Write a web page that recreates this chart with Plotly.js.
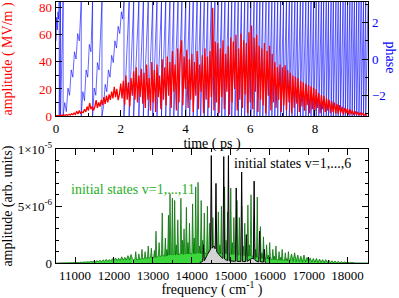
<!DOCTYPE html>
<html>
<head>
<meta charset="utf-8">
<script src="https://cdn.plot.ly/plotly-3.0.1.min.js"></script>
<style>html,body{margin:0;padding:0;background:#fff;}#chart{width:399px;height:298px;}</style>
</head>
<body>
<div id="chart"></div>
<script>
// ---------- top panel data ----------
// field amplitude (MV/m), sampled every 0.04 ps starting at t = 0
const amplitudeMVm = [
 0.3,0.2,0.5,0.3,0.6,0.4,0.8,0.5,1.0,0.6,1.2,0.8,1.6,1.0,2.2,1.2,3.5,1.5,4.0,2.0,3.0,2.5,5.0,3.0,7.0,
 4.0,9.5,5.0,7.0,4.0,6.8,11.8,6.0,10.0,7.0,12.0,8.0,14.0,9.0,15.0,10.0,16.0,12.0,18.0,13.0,21.6,14.0,20.0,11.8,16.0,
 24.0,13.0,26.0,8.0,30.0,12.0,25.0,7.0,28.0,15.0,33.0,12.0,36.0,10.0,30.0,14.0,35.0,9.0,32.0,6.0,38.0,12.0,28.0,4.0,40.0,
 10.0,34.0,3.0,38.0,14.0,30.0,5.0,42.0,12.0,36.0,8.0,44.0,15.0,40.0,6.0,48.0,18.0,38.0,4.0,50.0,10.0,46.0,56.0,8.0,44.0,
 20.0,49.0,6.0,42.0,12.0,46.0,3.0,40.0,15.0,48.0,5.0,38.0,18.0,45.0,2.0,50.0,12.0,44.0,6.0,48.0,14.0,80.0,4.0,55.0,10.0,
 54.0,2.0,50.0,14.0,56.0,5.0,46.0,18.0,52.0,1.0,58.0,10.0,55.0,20.0,60.0,4.0,50.0,12.0,61.0,6.0,56.0,16.0,54.0,2.0,62.0,
 10.0,67.0,5.0,58.0,18.0,60.0,3.0,52.0,12.0,50.0,8.0,54.0,2.0,48.0,15.0,52.0,4.0,46.0,10.0,40.0,6.0,36.0,12.0,38.0,3.0,
 36.0,8.0,37.5,4.0,34.0,10.0,32.0,2.0,30.0,6.0,29.0,9.0,28.0,3.0,26.0,7.0,25.0,4.0,24.0,8.0,23.0,2.0,22.0,5.0,21.0,
 4.0,20.0,6.0,17.0,2.0,15.5,5.0,15.0,3.0,13.0,4.0,12.0,2.0,11.0,3.0,10.0,2.0,9.0,1.5,8.0,2.5,7.0,1.0,6.0,2.0,
 5.5,1.0,5.0,1.5,4.0,0.8,3.5,1.0,3.0,0.5,2.5,0.8,2.0,0.5,1.5,0.3
];
// phase (rad): early slow part read point by point
const phaseEarlyT = [0.00,0.02,0.04,0.06,0.08,0.10,0.10,0.14,0.14,0.22,0.22,0.27,0.32,0.37,0.42,0.47,0.52,0.57,0.62,0.67,0.72,0.78,0.78,0.83,0.88,0.93,0.98,1.03,1.08,1.13,1.13,1.18,1.23,1.28,1.33,1.38,1.42,1.42,1.47,1.52,1.57,1.62,1.67,1.72,1.77,1.82,1.87,1.92,1.97,2.02,2.06,2.10];
const phaseEarlyV = [1.0,2.3,1.6,2.6,2.2,3.14,-3.14,3.14,-3.14,3.14,-3.14,-2.4,-2.9,-1.6,-2.0,-0.6,-1.0,0.4,0.0,1.4,1.0,3.14,-3.14,-1.8,-2.3,-0.6,-1.0,0.8,0.4,3.14,-3.14,-1.6,-2.0,-0.2,-0.6,1.4,3.14,-3.14,-2.6,-1.4,-1.8,-0.6,-1.0,0.2,-0.2,1.0,0.6,1.8,1.4,2.6,2.2,3.14];
// later part: times (ps) where the phase jumps from +pi to -pi
const phaseWrapT = [2.10,2.26,2.40,2.56,2.70,2.85,2.99,3.12,3.26,3.39,3.52,3.64,3.77,3.89,4.01,4.13,4.24,4.36,4.47,4.58,4.69,4.80,4.91,5.01,5.12,5.22,5.33,5.43,5.53,5.63,5.73,5.83,5.93,6.02,6.12,6.21,6.30,6.39,6.49,6.58,6.67,6.76,6.85,6.94,7.03,7.12,7.21,7.29,7.38,7.46,7.55,7.63,7.72,7.80,7.88,7.96,8.04,8.12,8.20,8.27,8.35,8.42,8.50,8.57,8.65,8.72,8.79,8.87,8.94,9.01,9.08,9.15,9.22,9.29,9.36,9.43,9.50,9.57];
const phaseEnd = [9.64, 3.0];

// ---------- bottom panel data (units of 1e-6) ----------
// v = 1..11 spectrum, low-frequency wing: every 40 cm^-1 from 10520 cm^-1
const specV11Low = [
 0,0,0,0,0,0,0,0,0.02,0.01,0.03,0.02,0.05,0.03,0.06,0.04,0.08,0.05,0.1,0.06,0.12,0.08,0.14,0.1,0.16,
 0.1,0.2,0.12,0.24,0.13,0.28,0.15,0.32,0.16,0.3,0.18,0.38,0.2,0.45,0.22,0.42,0.24,0.55,0.25,0.5,0.26,0.65,0.28,0.75,0.3
];
// v = 1..11 spectrum, central band: every 20 cm^-1 from 12500 cm^-1
const specV11Mid = [
 0.3,0.28,0.35,1.0,0.3,0.32,0.3,0.8,0.32,0.35,0.4,1.2,0.35,0.38,0.4,1.0,0.4,0.45,0.4,1.5,
 0.42,0.45,0.5,1.3,0.45,0.5,0.48,1.1,0.5,2.8,0.5,0.55,0.6,1.8,0.55,0.6,0.6,4.4,0.6,0.65,
 0.6,2.2,0.6,1.2,0.65,4.2,0.7,6.1,0.7,0.75,5.7,0.7,0.75,5.5,0.7,1.6,0.75,3.8,0.7,0.8,
 0.75,5.7,0.8,2.0,0.75,3.0,0.8,0.8,4.9,0.8,1.8,0.8,3.5,0.8,0.85,0.8,5.2,0.85,2.2,0.8,
 6.7,0.85,0.9,7.1,0.85,1.5,0.85,5.5,0.8,2.0,0.8,4.4,0.8,0.85,0.8,5.0,0.8,0.85,3.5,0.8,
 1.8,0.8,4.0,0.8,1.5,0.8,3.5,0.8,0.8,4.5,0.8,1.6,0.8,5.0,0.8,0.85,0.8,6.7,0.8,2.0,
 0.8,4.5,0.8,0.8,0.75,6.6,0.75,1.8,0.75,4.0,0.75,0.7,0.75,5.5,0.7,0.7,4.0,0.7,0.7,5.0,
 0.65,1.5,0.65,3.5,0.6,0.65,0.6,5.1,0.6,1.6,0.6,6.0,0.55,0.6,0.55,4.0,0.5,1.2,0.5,5.8,
 0.45,0.5,0.45,3.2,0.4,0.9,0.4,2.3,0.38,0.4,0.36,1.6,0.35,0.7,0.33,1.8,0.32,0.34,0.3,1.2,
 0.3,0.6,0.28,1.5,0.27,0.28,0.26,1.0,0.25,0.5,0.24,1.2,0.23,0.24,0.22,0.9,0.21,0.4,0.2,1.0,
 0.2
];
// v = 1..11 spectrum, high-frequency wing: every 40 cm^-1 from 16480 cm^-1
const specV11High = [
 0.2,0.15,0.8,0.15,0.9,0.12,0.7,0.12,0.6,0.1,0.7,0.1,0.5,0.1,0.45,0.08,0.4,0.08,0.4,0.06,0.35,0.06,0.3,0.05,0.3,0.05,
 0.25,0.04,0.2,0.04,0.18,0.03,0.15,0.03,0.12,0.02,0.1,0.02,0.08,0.02,0.05,0.01,0.03,0.01,0.01,0.01,0,0,0,0,0,0
];
// v = 1..6 spectrum, every 20 cm^-1 starting at 14200 cm^-1
const spectrumV6 = [
 0.05,0.05,0.08,0.1,0.15,1.6,0.2,0.3,0.45,0.6,0.75,0.9,1.0,1.1,1.2,9.45,1.3,1.4,1.45,1.35,1.25,7.0,1.0,0.9,0.8,
 0.7,0.6,0.55,0.5,0.45,0.4,9.36,0.35,0.3,0.28,0.25,0.22,9.45,0.2,0.2,0.18,0.18,0.16,0.16,0.15,0.15,0.15,6.6,0.15,0.15,
 0.14,0.14,0.14,0.14,8.0,0.14,0.13,0.13,0.13,0.13,2.5,0.15,0.2,0.25,0.3,0.35,0.4,0.4,0.4,0.35,7.2,0.3,0.2,0.15,0.12,
 0.1,0.1,2.8,0.1,0.1,0.08,0.08,0.08,1.2,0.06,0.05
];
const freqTicks = [11000,12000,13000,14000,15000,16000,17000,18000];
const freqTickText = ['11000','12000','13000','14000','15000','16000','17000','18000'];
const ampTickVals = [0,5,10];
const ampTickText = ['0','5×10<sup>-6</sup>','1×10<sup>-5</sup>'];

// build wrapped phase polyline
const PI = 3.14;
const phX = phaseEarlyT.slice(), phY = phaseEarlyV.slice();
phX.push(phaseWrapT[0]); phY.push(-PI);
for (let k = 1; k < phaseWrapT.length; k++) {
  phX.push(phaseWrapT[k]); phY.push(PI);
  phX.push(phaseWrapT[k]); phY.push(-PI);
}
phX.push(phaseEnd[0]); phY.push(phaseEnd[1]);

const serif = "'Liberation Serif', 'Times New Roman', Times, serif";
const axBase = {showline:true, linecolor:'black', linewidth:1.3, showgrid:false, zeroline:false,
  ticks:'inside', ticklen:6, tickwidth:1, tickcolor:'black'};
const greenStyle = {xaxis:'x2', yaxis:'y3', mode:'lines', fill:'tozeroy',
  fillcolor:'rgb(60,215,60)', line:{color:'#006400', width:0.7}};

const traces = [
  {x:phX, y:phY, xaxis:'x', yaxis:'y', mode:'lines', line:{color:'rgba(0,0,255,0.75)', width:0.8}, hoverinfo:'skip'},
  {x0:0, dx:0.04, y:amplitudeMVm, xaxis:'x', yaxis:'y2', mode:'lines', line:{color:'#ff0000', width:1.3}},
  Object.assign({x0:10520, dx:40, y:specV11Low}, greenStyle),
  Object.assign({x0:16480, dx:40, y:specV11High}, greenStyle),
  Object.assign({x0:12500, dx:20, y:specV11Mid}, greenStyle),
  {x0:14200, dx:20, y:spectrumV6, xaxis:'x2', yaxis:'y3', mode:'lines', fill:'tozeroy',
   fillcolor:'#d3d3d3', line:{color:'#000000', width:1}}
];

const layout = {
  width:399, height:298,
  margin:{l:56, r:31, t:2, b:35},
  paper_bgcolor:'white', plot_bgcolor:'white',
  font:{family:serif, size:13, color:'black'},
  showlegend:false,
  xaxis: Object.assign({}, axBase, {domain:[0,1], anchor:'y', range:[0,9.64], tickmode:'linear', tick0:0, dtick:2,
    minor:{dtick:1, tick0:0, ticks:'inside', ticklen:3, tickcolor:'black'}, mirror:'ticks',
    title:{text:'time ( ps )', font:{size:14, family:serif}, standoff:0}}),
  yaxis: Object.assign({}, axBase, {domain:[0.5632,1], anchor:'x', side:'right', range:[-3.14,3.14],
    tickmode:'linear', tick0:0, dtick:2, minor:{dtick:1, tick0:0, ticks:'inside', ticklen:3, tickcolor:'black'},
    tickfont:{color:'#0000ff', family:serif, size:13}}),
  yaxis2: Object.assign({}, axBase, {overlaying:'y', side:'left', anchor:'x', range:[0,84.3],
    tickmode:'linear', tick0:0, dtick:20, minor:{dtick:10, tick0:0, ticks:'inside', ticklen:3, tickcolor:'black'},
    tickfont:{color:'#ff0000', family:serif, size:13},
    title:{text:'amplitude ( MV/m )', font:{size:14, color:'#ff0000', family:serif}, standoff:26}}),
  xaxis2: Object.assign({}, axBase, {domain:[0,1], anchor:'y3', range:[10512,18524], tickmode:'array',
    tickvals:freqTicks, ticktext:freqTickText,
    minor:{dtick:500, tick0:0, ticks:'inside', ticklen:3, tickcolor:'black'}, mirror:'ticks',
    title:{text:'frequency ( cm<sup>-1</sup> )', font:{size:14, family:serif}, standoff:3}}),
  yaxis3: Object.assign({}, axBase, {domain:[0,0.4356], anchor:'x2', range:[0,10], tickmode:'array',
    tickvals:ampTickVals, ticktext:ampTickText,
    minor:{dtick:1, tick0:0, ticks:'inside', ticklen:3, tickcolor:'black'}, mirror:'ticks',
    title:{text:'amplitude (arb. units)', font:{size:14, family:serif}, standoff:6}}),
  annotations:[
    {xref:'paper', yref:'paper', x:1.0705, y:0.787, text:'phase', textangle:90, showarrow:false,
     font:{size:14, color:'#0000ff', family:serif}, xanchor:'center', yanchor:'middle'},
    {xref:'x2', yref:'y3', x:15044, y:8.75, text:'initial states v=1,...,6', showarrow:false,
     font:{size:14, color:'#000000', family:serif}, xanchor:'left', yanchor:'middle'},
    {xref:'x2', yref:'y3', x:10846, y:6.46, text:'initial states v=1,...,11', showarrow:false,
     font:{size:14, color:'#1fae1f', family:serif}, xanchor:'left', yanchor:'middle'}
  ]
};

Plotly.newPlot('chart', traces, layout, {displayModeBar:false, staticPlot:true});
</script>
</body>
</html>
